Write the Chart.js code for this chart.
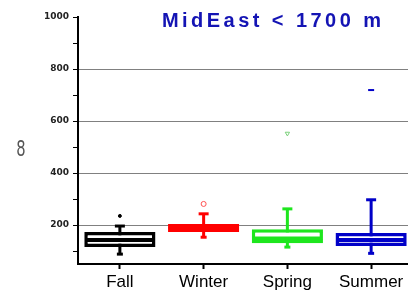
<!DOCTYPE html>
<html>
<head>
<meta charset="utf-8">
<script src="https://cdn.jsdelivr.net/npm/chart.js@4"></script>
<style>
  body { margin: 0; overflow: hidden; background: #fff; }
  #wrap { width: 413px; height: 293px; }
</style>
</head>
<body>
<div id="wrap"><canvas id="boxChart" width="413" height="293"></canvas></div>
<script>
const SEASONS = ['Fall', 'Winter', 'Spring', 'Summer'];
const WHISKER_LOW = [88, 153, 115, 91];
const Q1 = [115, 173, 130, 119];
const MEDIAN = [142, 188, 148, 142];
const Q3 = [173, 204, 184, 169];
const WHISKER_HIGH = [196, 243, 262, 297];
const OUTLIERS = [235, 281, 552, 719];
const Y_TICKS = [100, 200, 300, 400, 500, 600, 700, 800, 900, 1000];
const Y_LABELED = [200, 400, 600, 800, 1000];
const Y_GRID = [200, 400, 600, 800];

const SEASON_COLORS = ['#000000', '#ff0000', '#1ee61e', '#0000c8'];
const TITLE_TEXT = 'MidEast < 1700 m';
const Y_TITLE = '8';

// title sits inside the plot area, so draw it by hand
const textPlugin = {
    id: 'extraText',
    afterDraw(chart) {
        const ctx = chart.ctx;
        ctx.save();
        ctx.font = 'bold 20px "Liberation Sans", Arial, sans-serif';
        ctx.fillStyle = '#1414b4';
        ctx.textBaseline = 'alphabetic';
        const w0 = ctx.measureText(TITLE_TEXT).width;
        ctx.letterSpacing = ((219 - w0) / (TITLE_TEXT.length - 1)).toFixed(2) + 'px';
        ctx.fillText(TITLE_TEXT, 162, 27);
        ctx.restore();

        ctx.save();
        ctx.font = '21px "DejaVu Sans", sans-serif';
        ctx.fillStyle = '#555';
        ctx.textAlign = 'center';
        ctx.textBaseline = 'middle';
        ctx.translate(21, 151);
        ctx.scale(0.7, 1);
        ctx.fillText(Y_TITLE, 0, 0);
        ctx.restore();
    }
};

const ranges = (lo, hi) => lo.map((v, i) => [v, hi[i]]);

new Chart(document.getElementById('boxChart'), {
    type: 'bar',
    data: {
        labels: SEASONS,
        datasets: [
            {
                // whisker stems
                data: ranges(WHISKER_LOW, WHISKER_HIGH),
                backgroundColor: SEASON_COLORS,
                barPercentage: 0.036, categoryPercentage: 1,
                grouped: false, order: 4
            },
            {
                data: ranges(Q1, Q3),
                backgroundColor: '#ffffff',
                borderColor: SEASON_COLORS,
                borderWidth: 3.5, borderSkipped: false,
                barPercentage: 0.85, categoryPercentage: 1,
                grouped: false, order: 3
            },
            {
                type: 'line', data: MEDIAN, showLine: false,
                pointStyle: 'line', pointRadius: 34, pointBorderWidth: 4,
                pointBorderColor: SEASON_COLORS, order: 2
            },
            {
                type: 'line', data: WHISKER_HIGH, showLine: false,
                pointStyle: 'line', pointRadius: 5, pointBorderWidth: 3,
                pointBorderColor: SEASON_COLORS, order: 2
            },
            {
                type: 'line', data: WHISKER_LOW, showLine: false,
                pointStyle: 'line', pointRadius: 3, pointBorderWidth: 3,
                pointBorderColor: SEASON_COLORS, order: 2
            },
            {
                type: 'line', data: OUTLIERS, showLine: false,
                pointStyle: ['circle', 'circle', 'triangle', 'line'],
                pointRotation: [0, 0, 180, 0],
                pointRadius: [1.5, 2.5, 2.5, 3],
                pointBorderWidth: [1, 1, 1, 2],
                pointBackgroundColor: ['#000', 'rgba(0,0,0,0)', 'rgba(0,0,0,0)', '#0000c8'],
                pointBorderColor: ['#000', '#ff5050', '#7ad07a', '#0000c8'],
                order: 1
            }
        ]
    },
    options: {
        responsive: false, animation: false,
        layout: { autoPadding: false, padding: { top: 17, left: 0, right: 0, bottom: 0 } },
        plugins: { legend: { display: false }, tooltip: { enabled: false }, title: { display: false } },
        scales: {
            x: {
                afterFit: s => { s.height = 29; },
                border: { color: '#000', width: 2 },
                grid: { drawOnChartArea: false, offset: false, tickLength: 5, tickColor: '#000', tickWidth: 2 },
                ticks: { color: '#000', padding: 3, font: { family: '"Liberation Sans", Arial, sans-serif', size: 17 } }
            },
            y: {
                min: 50, max: 1000,
                afterFit: s => { s.width = 78; },
                afterBuildTicks: s => { s.ticks = Y_TICKS.map(v => ({ value: v })); },
                border: { color: '#000', width: 2 },
                grid: {
                    color: c => Y_GRID.includes(c.tick && c.tick.value) ? '#808080' : 'rgba(0,0,0,0)',
                    tickColor: '#000', tickLength: 5, lineWidth: 1
                },
                ticks: {
                    color: '#222', padding: 4,
                    font: { family: '"DejaVu Sans", sans-serif', size: 9, weight: 'bold' },
                    callback: v => Y_LABELED.includes(v) ? String(v) : ''
                }
            }
        }
    },
    plugins: [textPlugin]
});
</script>
</body>
</html>
